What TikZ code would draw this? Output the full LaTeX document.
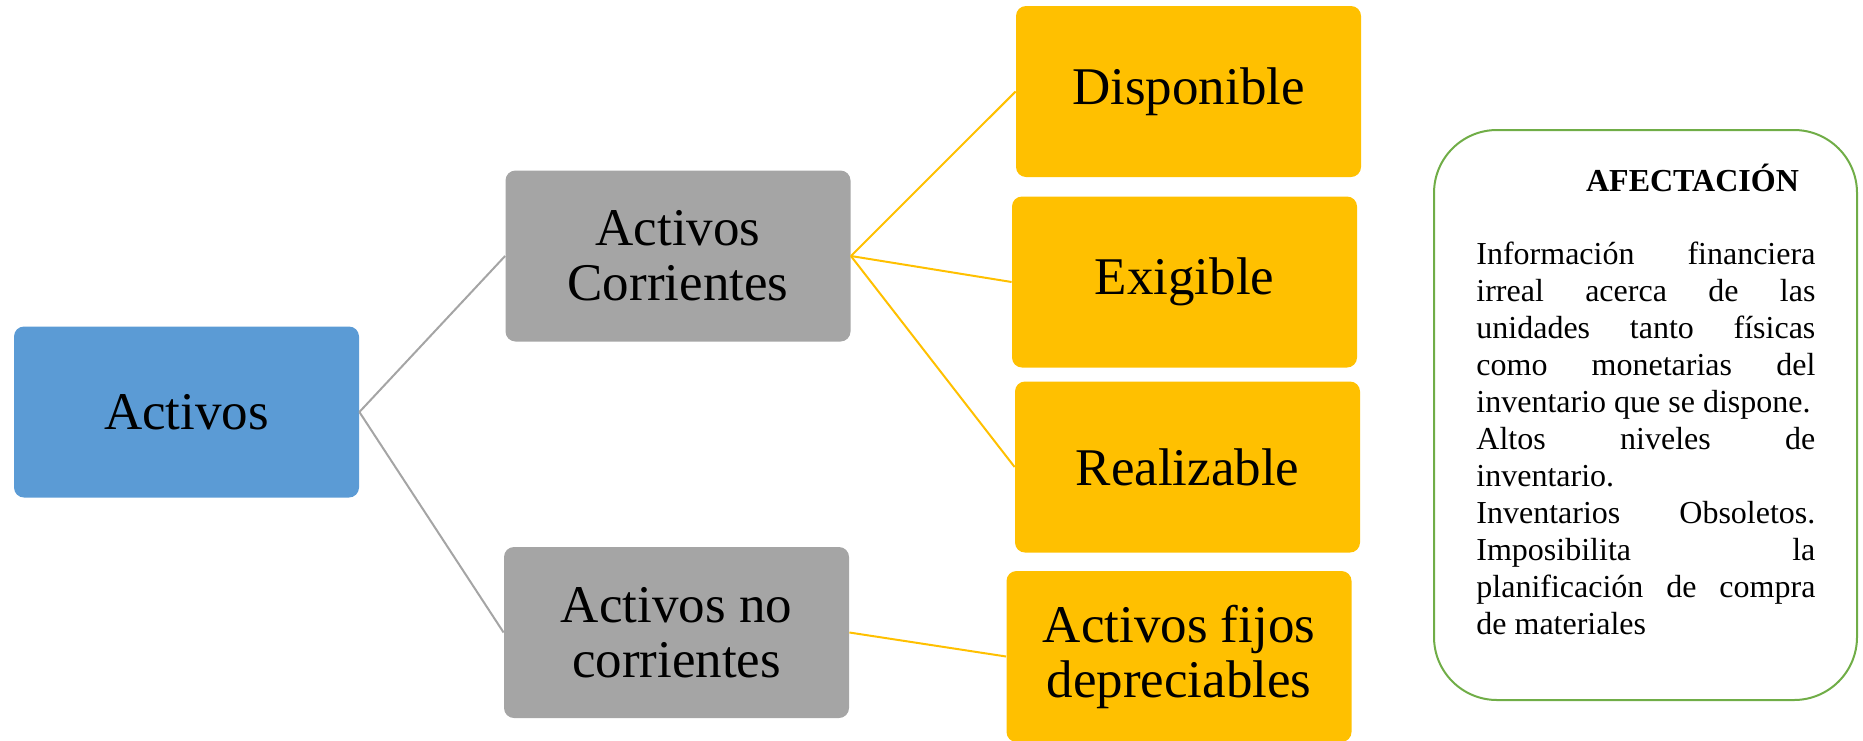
\documentclass[tikz,border=0pt]{standalone}
\usepackage{fontspec}
\setmainfont{Liberation Serif}
\definecolor{azul}{HTML}{5B9BD5}
\definecolor{gris}{HTML}{A5A5A5}
\definecolor{amarillo}{HTML}{FFC000}
\definecolor{verde}{HTML}{70AD47}

\begin{document}
\begin{tikzpicture}[x=0.5pt, y=-0.5pt,
    caja/.style={rounded corners=5pt, minimum width=172.5pt, minimum height=85.5pt,
      inner sep=0pt, align=center, font=\fontsize{26.5}{27.5}\selectfont},
    ramagris/.style={draw=gris, line width=1pt},
    ramaamarilla/.style={draw=amarillo, line width=1pt}]
      \useasboundingbox (0,0) rectangle (1863,740);
      \begin{scope}
        \node[caja, fill=azul] (activos) at (186.5,412) {Activos};
        \node[caja, fill=gris] (corr) at (678,256) {Activos\\Corrientes};
        \node[caja, fill=gris] (nocorr) at (676.5,632.5) {Activos no\\corrientes};
        \draw[ramagris] (activos.east) -- (corr.west);
        \draw[ramagris] (activos.east) -- (nocorr.west);
      \end{scope}
      \begin{scope}
        \node[caja, fill=amarillo] (disp) at (1188.5,91.5) {Disponible};
        \node[caja, fill=amarillo] (exig) at (1184.5,282) {Exigible};
        \node[caja, fill=amarillo] (realiz) at (1187.5,467) {Realizable};
        \node[caja, fill=amarillo] (fijos) at (1179,656.5) {Activos fijos\\depreciables};
        \draw[ramaamarilla] (corr.east) -- (disp.west);
        \draw[ramaamarilla] (corr.east) -- (exig.west);
        \draw[ramaamarilla] (corr.east) -- (realiz.west);
        \draw[ramaamarilla] (nocorr.east) -- (fijos.west);
      \end{scope}
      \begin{scope}
        \node[draw=verde, line width=1pt, rounded corners=31.5pt, minimum width=211.5pt,
          minimum height=285pt] (afect) at (1645.5,415) {};
        \node[anchor=base, font=\fontsize{16}{18.5}\selectfont\bfseries] (titulo) at (1692.5,191) {AFECTACIÓN};
        \node[anchor=north west, inner sep=0pt, text width=169.5pt, align=justify,
          font=\fontsize{16}{18.5}\selectfont] (texto) at (1476,242)
          {Información financiera\linebreak irreal acerca de las\linebreak unidades tanto físicas\linebreak
          como monetarias del\linebreak inventario que se dispone.\\
          Altos niveles de\linebreak inventario.\\
          Inventarios Obsoletos.\linebreak Imposibilita la\linebreak planificación de compra\linebreak de materiales};
      \end{scope}
    \end{tikzpicture}
\end{document}
